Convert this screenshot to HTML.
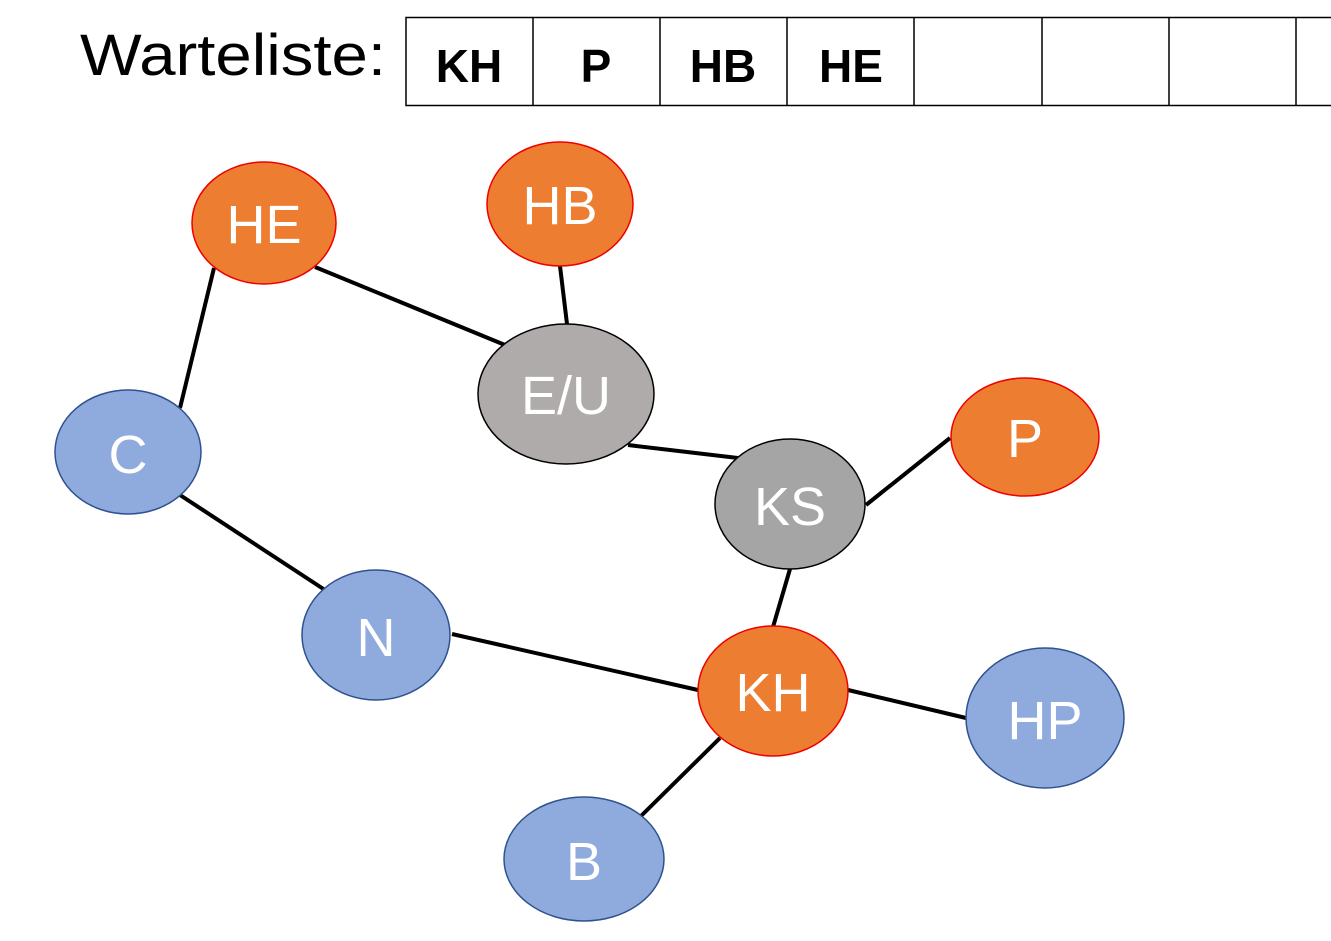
<!DOCTYPE html>
<html><head><meta charset="utf-8"><style>
html,body{margin:0;padding:0;background:#fff;width:1331px;height:941px;overflow:hidden;font-family:"Liberation Sans",sans-serif}
</style></head><body>
<svg width="1331" height="941" xmlns="http://www.w3.org/2000/svg" style="position:absolute;left:0;top:0">
<text x="80" y="75" font-size="58" textLength="306" lengthAdjust="spacingAndGlyphs" font-family="Liberation Sans, sans-serif" fill="#000">Warteliste:</text>
<g stroke="#000" stroke-width="1.5" fill="none">
<rect x="406" y="17.5" width="940" height="88"/>
<line x1="533" y1="17" x2="533" y2="105"/>
<line x1="660" y1="17" x2="660" y2="105"/>
<line x1="787" y1="17" x2="787" y2="105"/>
<line x1="914" y1="17" x2="914" y2="105"/>
<line x1="1042" y1="17" x2="1042" y2="105"/>
<line x1="1169" y1="17" x2="1169" y2="105"/>
<line x1="1296" y1="17" x2="1296" y2="105"/>
</g>
<g font-size="46" font-weight="bold" text-anchor="middle" font-family="Liberation Sans, sans-serif" fill="#000">
<text x="469" y="82">KH</text><text x="596" y="82">P</text><text x="723" y="82">HB</text><text x="851" y="82">HE</text>
</g>
<g stroke="#000" stroke-width="4">
<line x1="214" y1="268" x2="180" y2="408"/>
<line x1="315" y1="267" x2="505" y2="345"/>
<line x1="560" y1="266" x2="567" y2="324"/>
<line x1="628" y1="445" x2="738" y2="458"/>
<line x1="866" y1="505" x2="950" y2="438"/>
<line x1="790" y1="569" x2="773" y2="627"/>
<line x1="180" y1="495" x2="325" y2="590"/>
<line x1="452" y1="634" x2="698" y2="690"/>
<line x1="848" y1="690" x2="966" y2="718"/>
<line x1="720" y1="738" x2="640" y2="817"/>
</g>
<g stroke-width="1.5">
<ellipse cx="264" cy="223" rx="72" ry="61" fill="#ED7D31" stroke="#E00"/>
<ellipse cx="560" cy="204" rx="73" ry="62" fill="#ED7D31" stroke="#E00"/>
<ellipse cx="1025" cy="437" rx="74" ry="59" fill="#ED7D31" stroke="#E00"/>
<ellipse cx="773" cy="691" rx="75" ry="65" fill="#ED7D31" stroke="#E00"/>
<ellipse cx="566" cy="394" rx="88" ry="70" fill="#AEABAA" stroke="#000"/>
<ellipse cx="790" cy="504" rx="75" ry="65" fill="#A5A5A5" stroke="#000"/>
<ellipse cx="128" cy="452" rx="73" ry="62" fill="#8FAADC" stroke="#2F528F"/>
<ellipse cx="376" cy="635" rx="74" ry="65" fill="#8FAADC" stroke="#2F528F"/>
<ellipse cx="1045" cy="718" rx="79" ry="70" fill="#8FAADC" stroke="#2F528F"/>
<ellipse cx="584" cy="859" rx="80" ry="62" fill="#8FAADC" stroke="#2F528F"/>
</g>
<g font-size="54" fill="#fff" text-anchor="middle" font-family="Liberation Sans, sans-serif">
<text x="264" y="243">HE</text>
<text x="560" y="224">HB</text>
<text x="1025" y="457">P</text>
<text x="773" y="711">KH</text>
<text x="566" y="414">E/U</text>
<text x="790" y="525">KS</text>
<text x="128" y="473">C</text>
<text x="376" y="656">N</text>
<text x="1045" y="739">HP</text>
<text x="584" y="880">B</text>
</g>
</svg>
</body></html>
